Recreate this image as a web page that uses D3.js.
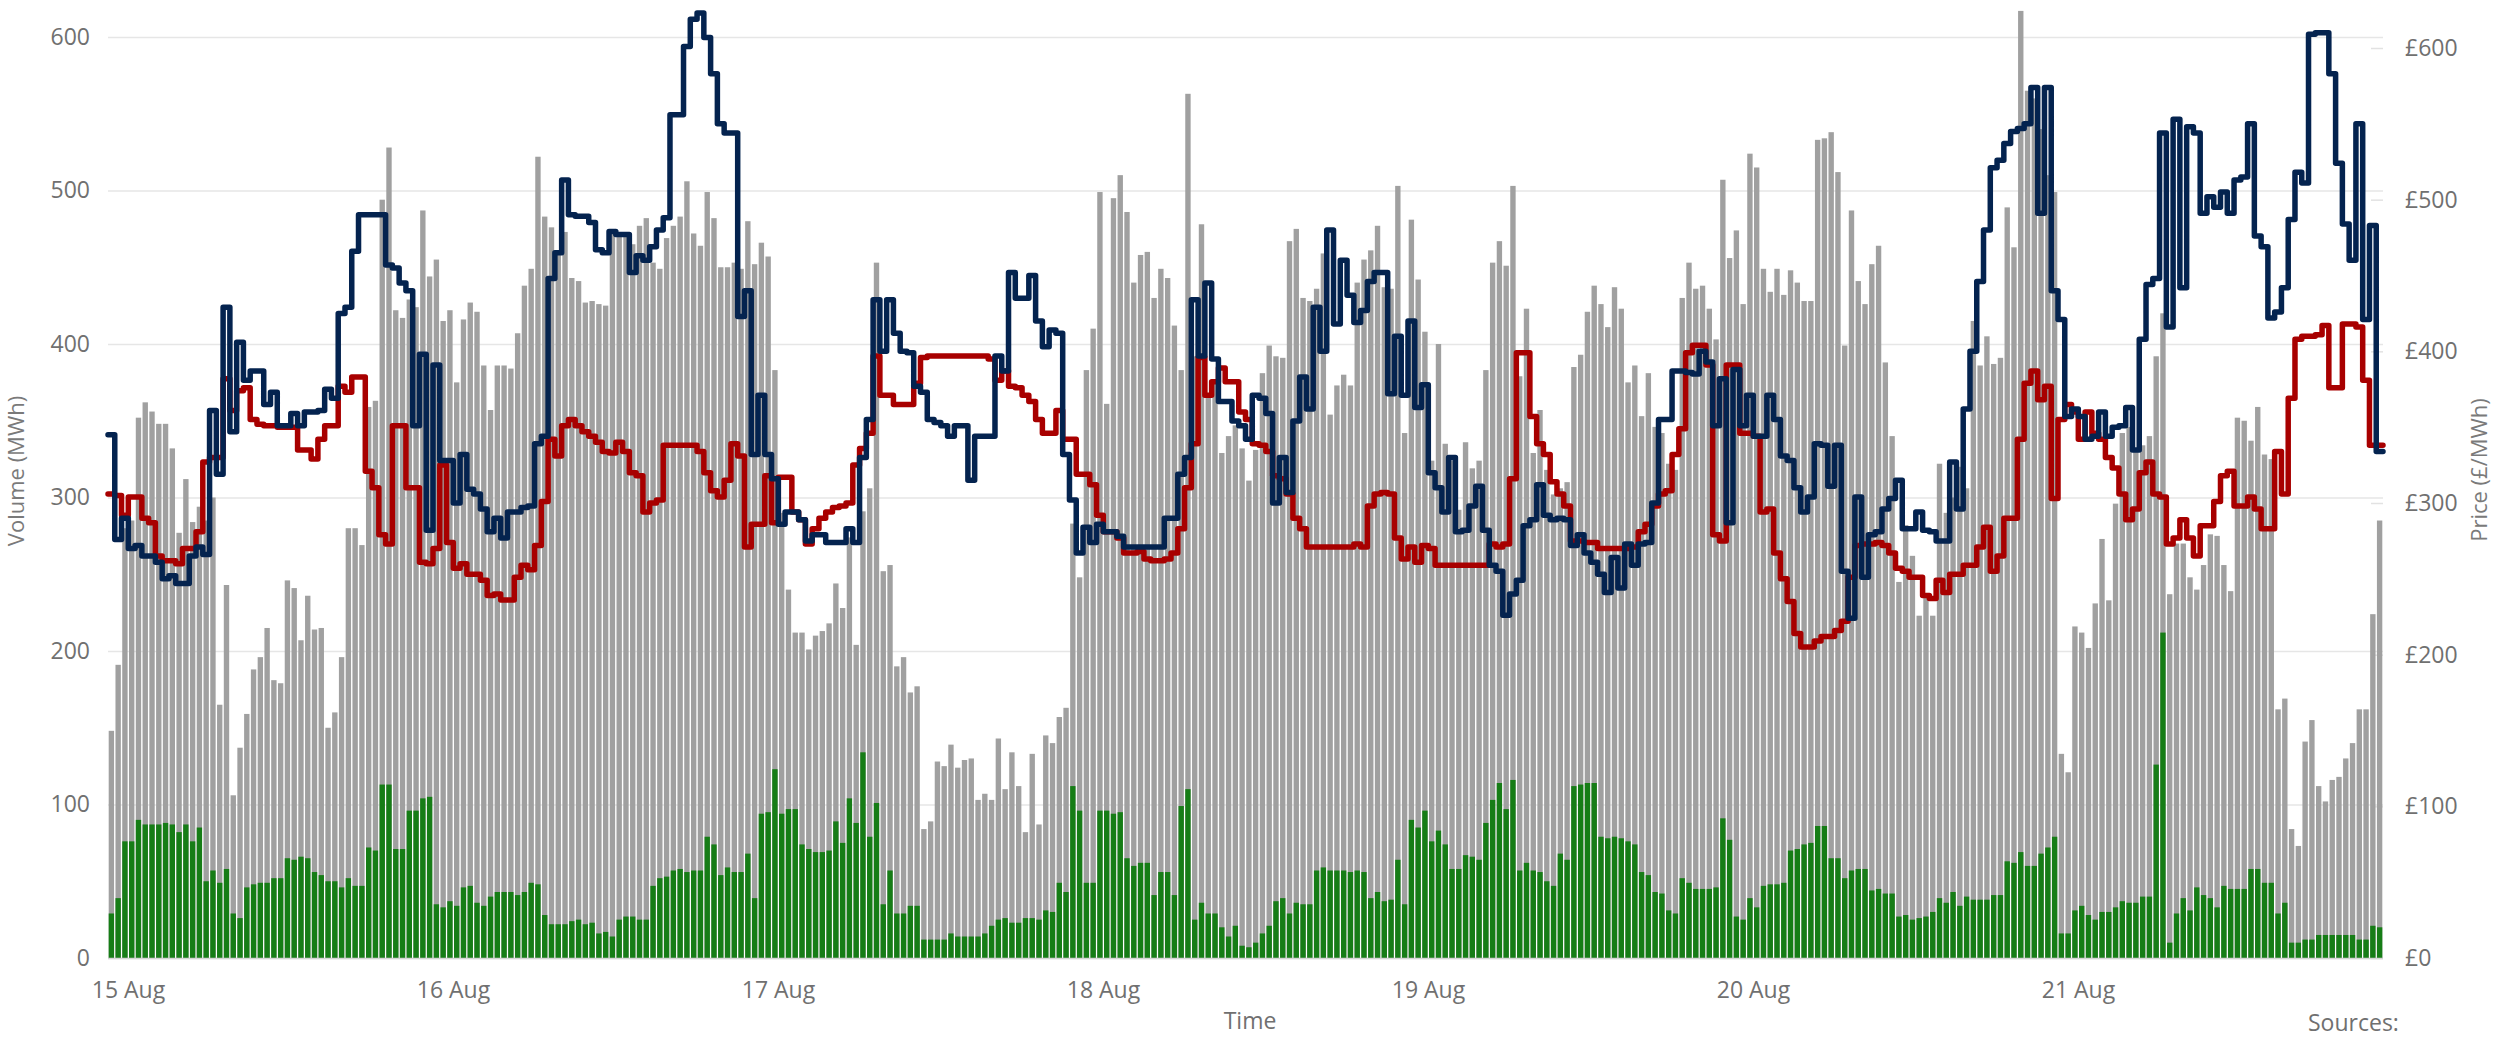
<!DOCTYPE html>
<html>
<head>
<meta charset="UTF-8">
<title>Volume and price</title>
<script src="https://cdn.jsdelivr.net/npm/d3@7"></script>
<style>
  body { margin: 0; background: #fff; }
  .axis text { font-family: "Open Sans", sans-serif; font-size: 23px; fill: #707070; }
  .axis .domain { display: none; }
  .title { font-family: "Liberation Sans Narrow", "Open Sans", sans-serif; font-size: 22px; fill: #7a7a7a; }
  .label { font-family: "Open Sans", sans-serif; font-size: 23px; fill: #707070; }
  .line { fill: none; stroke-width: 5.5px; stroke-linejoin: round; stroke-linecap: round; }
</style>
</head>
<body>
<svg width="2496" height="1038"></svg>
<script>
// half-hourly values, one row per day (15 Aug .. 21 Aug)
var dayLabels = ['15 Aug', '16 Aug', '17 Aug', '18 Aug', '19 Aug', '20 Aug', '21 Aug'];
var volTicks = [0, 100, 200, 300, 400, 500, 600];
var priceTicks = [0, 100, 200, 300, 400, 500, 600];

var volumeTotal = [
  148,191,280,285,352,362,356,348,348,332,277,312,284,294,285,300,165,243,106,137,159,188,196,215,181,179,246,241,207,236,214,215,150,160,196,280,280,269,359,363,494,528,422,417,429,424,487,444,
  455,415,422,375,416,427,421,386,357,386,386,384,407,438,449,522,483,476,461,473,443,441,427,428,426,425,473,471,471,465,477,482,453,449,469,477,483,506,472,464,499,482,450,450,453,449,480,452,
  466,457,383,290,240,212,212,201,210,213,218,244,228,274,204,291,306,453,252,256,190,196,173,177,84,89,128,125,139,124,129,130,103,107,103,143,110,134,112,82,133,87,145,140,157,163,283,248,
  383,410,499,361,495,510,486,440,458,460,430,449,443,412,383,563,392,478,367,375,329,340,347,332,311,331,381,399,392,391,467,475,430,428,436,459,354,373,380,373,440,455,461,477,437,436,503,342,
  481,442,408,324,400,335,324,292,336,319,324,383,453,467,451,503,379,423,329,357,318,302,306,310,385,393,421,438,426,411,437,423,375,386,353,381,346,342,322,318,430,453,436,438,423,403,507,456,
  474,426,524,515,449,434,449,432,448,440,428,428,533,534,538,512,399,487,441,426,452,464,388,340,245,282,262,223,236,223,322,290,300,320,306,415,386,405,387,391,489,463,617,565,560,540,510,499,
  133,121,216,212,202,231,273,233,296,342,346,332,334,340,392,420,237,270,270,248,240,256,276,275,256,239,352,350,337,359,328,325,162,169,84,73,141,155,112,102,116,118,130,140,162,162,224,285
];

var volumeGreen = [
  29,39,76,76,90,87,87,87,88,87,82,87,76,85,50,57,49,58,29,26,46,48,49,49,52,52,65,64,66,65,56,54,50,50,46,52,47,47,72,70,113,113,71,71,96,96,104,105,
  35,33,37,34,46,47,36,34,40,43,43,43,41,43,49,48,28,22,22,22,24,25,22,23,16,17,14,25,27,27,25,25,47,52,53,57,58,56,57,57,79,74,54,59,56,56,68,39,
  94,95,123,94,97,97,74,71,69,69,70,89,75,104,88,134,79,101,35,57,29,29,34,34,12,12,12,12,16,14,14,14,14,16,21,25,26,23,23,26,26,25,31,30,49,43,112,96,
  49,49,96,96,94,95,65,60,62,62,41,56,56,41,99,110,25,36,29,29,20,14,21,8,7,10,16,21,37,39,29,36,35,35,57,59,57,57,57,56,57,56,39,43,37,38,64,35,
  90,85,96,76,83,74,58,58,67,66,64,88,103,114,97,116,57,62,57,56,50,47,68,64,112,113,114,114,79,78,79,78,76,74,56,54,43,42,31,29,52,49,45,45,45,46,91,77,
  27,25,39,33,47,48,48,49,70,71,74,75,86,86,65,65,52,57,58,58,44,45,42,42,27,28,25,26,27,30,39,36,43,34,40,38,38,38,41,41,63,62,69,60,60,68,72,79,
  16,16,31,34,28,25,30,30,33,37,36,36,40,40,126,212,10,29,39,31,46,41,39,33,47,45,45,45,58,58,49,49,29,36,10,10,12,12,15,15,15,15,15,15,12,12,21,20
];

var priceNavy = [
  345,276,290,270,272,265,265,261,250,252,247,247,265,271,266,361,319,429,347,406,381,387,387,365,373,351,351,359,351,360,360,361,375,369,425,429,466,490,490,490,490,457,455,445,440,351,398,282,
  391,328,328,300,332,309,306,296,281,290,277,294,294,297,298,339,344,448,465,513,490,489,489,485,467,465,479,477,477,452,463,460,469,480,488,556,556,601,619,623,607,583,550,544,544,423,440,332,
  371,332,316,286,294,294,289,275,279,279,274,274,274,283,274,330,355,434,400,434,412,400,399,377,373,355,353,351,344,351,351,315,344,344,344,397,387,452,435,435,450,420,403,414,412,332,302,267,
  284,274,286,281,281,278,271,271,271,271,271,271,290,290,319,330,434,397,445,395,367,367,354,351,342,371,369,359,300,330,307,354,383,362,429,400,480,418,460,437,419,427,446,452,452,372,410,371,
  420,363,378,320,310,294,330,281,282,298,311,282,259,255,226,240,249,285,289,312,292,289,290,289,272,279,267,261,253,241,264,244,273,259,273,274,300,355,355,387,387,386,385,400,393,351,382,287,
  388,351,371,344,344,371,355,331,328,310,294,304,339,338,311,338,255,224,304,251,279,281,296,303,315,283,283,294,282,281,275,275,327,296,362,400,446,480,521,526,537,545,547,550,574,491,574,440,
  421,357,362,357,342,344,360,344,350,351,363,335,408,444,448,544,416,553,442,548,544,491,502,495,505,491,513,515,550,476,469,422,426,442,487,518,511,609,610,610,583,524,484,460,550,421,483,334
];

var priceRed = [
  306,305,292,304,304,290,287,265,262,262,260,270,270,281,327,330,330,382,361,374,376,355,352,351,351,350,350,350,335,335,329,342,351,351,377,373,383,383,321,310,279,273,351,351,310,310,261,260,
  270,325,274,257,260,253,253,249,239,240,236,236,251,259,256,272,301,342,331,351,355,351,347,344,340,334,333,340,334,320,318,294,300,302,338,338,338,338,338,334,320,308,304,315,339,331,271,286,
  286,318,287,317,317,294,289,273,283,290,294,297,298,300,325,336,346,397,371,371,365,365,365,379,396,397,397,397,397,397,397,397,397,397,395,381,387,377,376,371,367,355,346,346,361,342,342,319,
  319,312,292,281,281,277,267,267,268,263,262,262,263,267,283,310,339,396,371,380,389,380,380,360,355,339,338,334,318,316,306,290,283,271,271,271,271,271,271,271,273,271,298,306,307,306,277,263,
  271,261,272,270,259,259,259,259,259,259,259,259,273,271,273,316,399,399,357,339,332,314,306,298,275,275,274,274,270,270,270,270,270,271,281,286,298,306,308,332,349,399,404,404,391,279,275,391,
  391,346,346,344,294,296,267,250,235,214,205,205,209,212,212,216,222,251,272,273,273,274,272,267,257,255,251,251,239,237,249,241,253,253,259,259,271,284,255,265,290,290,342,379,387,368,377,303,
  355,365,360,342,360,346,342,330,323,306,289,296,320,327,306,304,273,277,289,277,265,285,285,301,318,321,298,298,304,296,283,283,334,306,369,408,410,410,411,417,376,376,418,418,416,381,338,338
];

var svg = d3.select('svg');
var left = 108, right = 2383, bottom = 958;

var start = new Date(2021, 7, 15);
var end = d3.timeDay.offset(start, dayLabels.length);

var rows = volumeTotal.map(function (v, i) {
  var t = d3.timeMinute.offset(start, 30 * i);
  return { t: t, t1: d3.timeMinute.offset(t, 30), total: v, green: volumeGreen[i], navy: priceNavy[i], red: priceRed[i] };
});

var x = d3.scaleTime().domain([start, end]).range([left, right]);
var yVol = d3.scaleLinear().domain([0, 600]).range([bottom, 37]);
var yPrice = d3.scaleLinear().domain([0, 600]).range([bottom, 48]);

// grid + left axis
var gLeft = svg.append('g').attr('class', 'axis')
  .attr('transform', 'translate(' + left + ',0)')
  .call(d3.axisLeft(yVol).tickValues(volTicks).tickSize(-(right - left)).tickPadding(18));
gLeft.selectAll('line').attr('stroke', '#e6e6e6').attr('stroke-width', 1.5);

// right axis, short inner ticks
var gRight = svg.append('g').attr('class', 'axis')
  .attr('transform', 'translate(' + right + ',0)')
  .call(d3.axisRight(yPrice).tickValues(priceTicks).tickSize(-12).tickPadding(22)
    .tickFormat(function (d) { return '£' + d; }));
gRight.selectAll('line').attr('stroke', '#e2e2e2').attr('stroke-width', 1.5);

// bars
var bw = x(rows[0].t1) - x(rows[0].t);
svg.append('g').selectAll('rect').data(rows).join('rect')
  .attr('x', function (d) { return x(d.t) + 0.7; })
  .attr('width', bw - 1.4)
  .attr('y', function (d) { return yVol(d.total); })
  .attr('height', function (d) { return bottom - yVol(d.total); })
  .attr('fill', '#a0a0a0');

svg.append('g').selectAll('rect').data(rows).join('rect')
  .attr('x', function (d) { return x(d.t) + 0.7; })
  .attr('width', bw - 1.4)
  .attr('y', function (d) { return yVol(d.green); })
  .attr('height', function (d) { return bottom - yVol(d.green); })
  .attr('fill', '#167d16');

// x axis
svg.append('line').attr('x1', left).attr('x2', right).attr('y1', bottom + 0.5).attr('y2', bottom + 0.5)
  .attr('stroke', '#d4d4d4').attr('stroke-width', 1.5);

var dayTicks = dayLabels.map(function (_, i) { return d3.timeDay.offset(start, i); });
var gBottom = svg.append('g').attr('class', 'axis')
  .attr('transform', 'translate(0,' + bottom + ')')
  .call(d3.axisBottom(x).tickValues(dayTicks).tickSize(0)
    .tickFormat(function (d, i) { return dayLabels[i]; }));
gBottom.selectAll('text').attr('x', 20).attr('y', 40).attr('dy', 0);

// step lines
function stepLine(key) {
  var pts = rows.map(function (d) { return [d.t, d[key]]; });
  pts.push([end, rows[rows.length - 1][key]]);
  return d3.line().curve(d3.curveStepAfter)
    .x(function (d) { return x(d[0]); })
    .y(function (d) { return yPrice(d[1]); })(pts);
}
svg.append('path').attr('class', 'line').attr('d', stepLine('red')).attr('stroke', '#a80000');
svg.append('path').attr('class', 'line').attr('d', stepLine('navy')).attr('stroke', '#04234f');

// titles
svg.append('text').attr('class', 'title')
  .attr('transform', 'translate(24,471) rotate(-90)')
  .attr('text-anchor', 'middle').text('Volume (MWh)');
svg.append('text').attr('class', 'title')
  .attr('transform', 'translate(2487,470) rotate(-90)')
  .attr('text-anchor', 'middle').text('Price (£/MWh)');
svg.append('text').attr('class', 'label')
  .attr('x', 1250).attr('y', 1029).attr('text-anchor', 'middle').text('Time');
svg.append('text').attr('class', 'label')
  .attr('x', 2308).attr('y', 1031).text('Sources:');
</script>
</body>
</html>
